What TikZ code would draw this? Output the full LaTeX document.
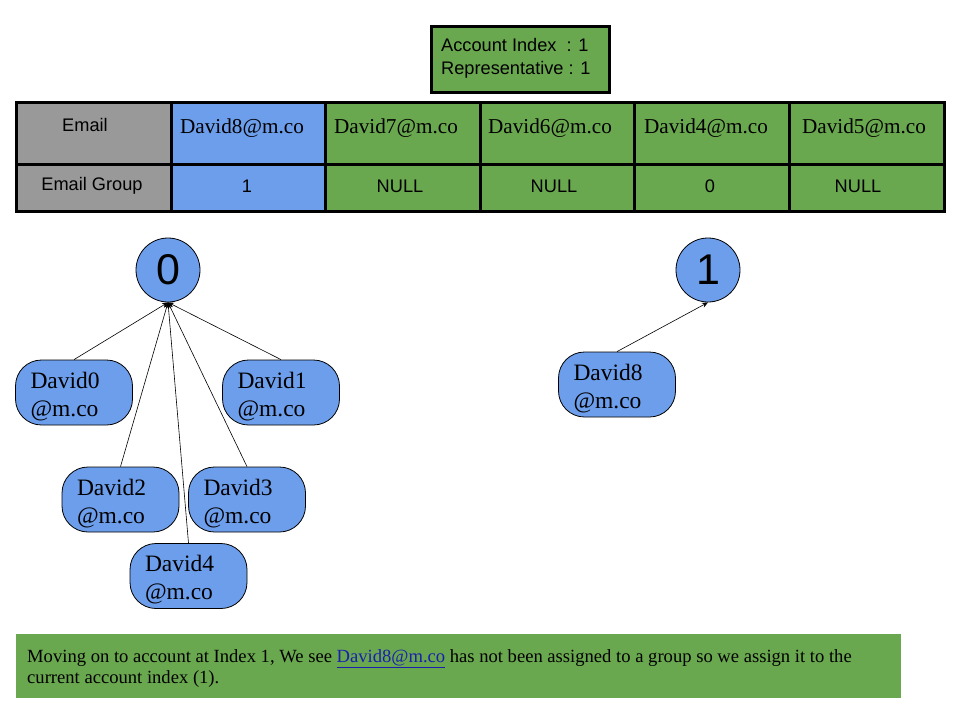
\documentclass[tikz,border=0pt]{standalone}
\usepackage{fontspec}
\setmainfont{Liberation Serif}
\setsansfont{Liberation Sans}
\usetikzlibrary{arrows.meta}
\definecolor{ggreen}{HTML}{6AA84F}
\definecolor{gblue}{HTML}{6D9EEB}
\definecolor{ggray}{HTML}{999999}
\definecolor{linkblue}{HTML}{1A1FB0}
\newcommand{\pilltext}[2]{\rule{0pt}{24pt}#1\\#2}
\tikzset{
  cellsans/.style={font=\sffamily\fontsize{18.2}{20}\selectfont, inner sep=0pt},
  cellserif/.style={font=\fontsize{21.2}{24}\selectfont, inner sep=0pt},
  groupcircle/.style={circle, draw=black, line width=0.8pt, fill=gblue, minimum size=64pt, inner sep=0pt, font=\sffamily\fontsize{43}{46}\selectfont},
  pill/.style={rectangle, rounded corners=26pt, draw=black, line width=0.8pt, fill=gblue, minimum width=117pt, minimum height=65pt, text width=87pt, inner xsep=15pt, inner ysep=0pt, align=left, font=\fontsize{23.5}{28}\selectfont},
  link/.style={-{Stealth[length=6pt,width=5pt]}, line width=0.6pt, black},
}
\begin{document}
\begin{tikzpicture}[x=1pt,y=-1pt]
\useasboundingbox (0,0) rectangle (960,720);
% top info box
\draw[fill=ggreen, line width=3pt] (431,26) rectangle (609,92);
\node[cellsans, anchor=west, align=left, font=\sffamily\fontsize{18.2}{23}\selectfont] (info) at (441,58.5) {Account Index\ \ : 1\\Representative : 1};
% table fills
\fill[ggray] (16,102) rectangle (171,211);
\fill[gblue] (171,102) rectangle (325,211);
\fill[ggreen] (325,102) rectangle (944,211);
% table lines
\draw[line width=3pt] (16,102) rectangle (944,211);
\draw[line width=3pt] (16,164) -- (944,164);
\foreach \x in {171,325,480,634,789} \draw[line width=3pt] (\x,102) -- (\x,211);
% table texts
\node[cellsans] (h1) at (85,125) {Email};
\node[cellsans] (h2) at (92,186) {Email Group};
\node[cellserif] (e1) at (242,128) {David8@m.co};
\node[cellserif] (e2) at (396,128) {David7@m.co};
\node[cellserif] (e3) at (550,128) {David6@m.co};
\node[cellserif] (e4) at (706,128) {David4@m.co};
\node[cellserif] (e5) at (864,128) {David5@m.co};
\node[cellsans] (g1) at (247,186) {1};
\node[cellsans] (g2) at (400,186) {NULL};
\node[cellsans] (g3) at (554,186) {NULL};
\node[cellsans] (g4) at (710,186) {0};
\node[cellsans] (g5) at (858,186) {NULL};
% group circles
\node[groupcircle] (c0) at (168,270) {0};
\node[groupcircle] (c1) at (708,270) {1};
% email nodes
\node[pill] (d0) at (74,392.5) {\pilltext{David0}{@m.co}};
\node[pill] (d1) at (281,392.5) {\pilltext{David1}{@m.co}};
\node[pill] (d2) at (120.5,499.5) {\pilltext{David2}{@m.co}};
\node[pill] (d3) at (247,499.5) {\pilltext{David3}{@m.co}};
\node[pill] (d4) at (188.5,576) {\pilltext{David4}{@m.co}};
\node[pill] (d8) at (617,384.5) {\pilltext{David8}{@m.co}};
% connectors
\foreach \n in {d0,d1,d2,d3,d4} \draw[link] (\n.north) -- (c0.south);
\draw[link] (d8.north) -- (c1.south);
% bottom explanation
\fill[ggreen] (16,634) rectangle (901,698);
\node[anchor=north west, inner sep=0pt, align=left, font=\fontsize{18.6}{21}\selectfont] (expl) at (27,649)
  {Moving on to account at Index 1, We see {\color{linkblue}\underline{David8@m.co}} has not been assigned to a group so we assign it to the\\current account index (1).};
\end{tikzpicture}
\end{document}
